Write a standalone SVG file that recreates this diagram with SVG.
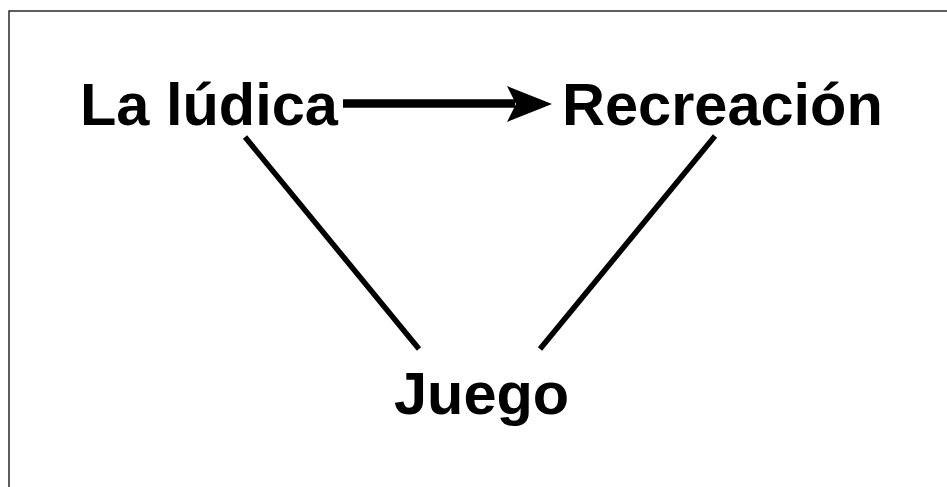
<svg xmlns="http://www.w3.org/2000/svg" width="947" height="487" viewBox="0 0 947 487">
<style>
.lbl{font-family:"Liberation Sans",Arial,sans-serif;font-weight:bold;font-size:59.5px;fill:#000}
.edge{stroke:#000;stroke-width:5.5;fill:none}
</style>
<rect width="947" height="487" fill="#fff"/>
<rect x="9" y="11" width="1000" height="1000" fill="none" stroke="#1a1a1a" stroke-width="1.4"/>
<g id="edges">
<line class="edge" x1="343" y1="103.5" x2="515" y2="103.5" style="stroke-width:8.5"/>
<path d="M552,104 L507,86 L516,104 L507,122 Z" fill="#000"/>
<line class="edge" x1="245" y1="137" x2="419" y2="349"/>
<line class="edge" x1="715" y1="136" x2="540" y2="349"/>
</g>
<g id="n1"><text class="lbl" x="80" y="125">La lúdica</text></g>
<g id="n2"><text class="lbl" x="562" y="125">Recreación</text></g>
<g id="n3"><text class="lbl" x="394" y="414">Juego</text></g>
</svg>
